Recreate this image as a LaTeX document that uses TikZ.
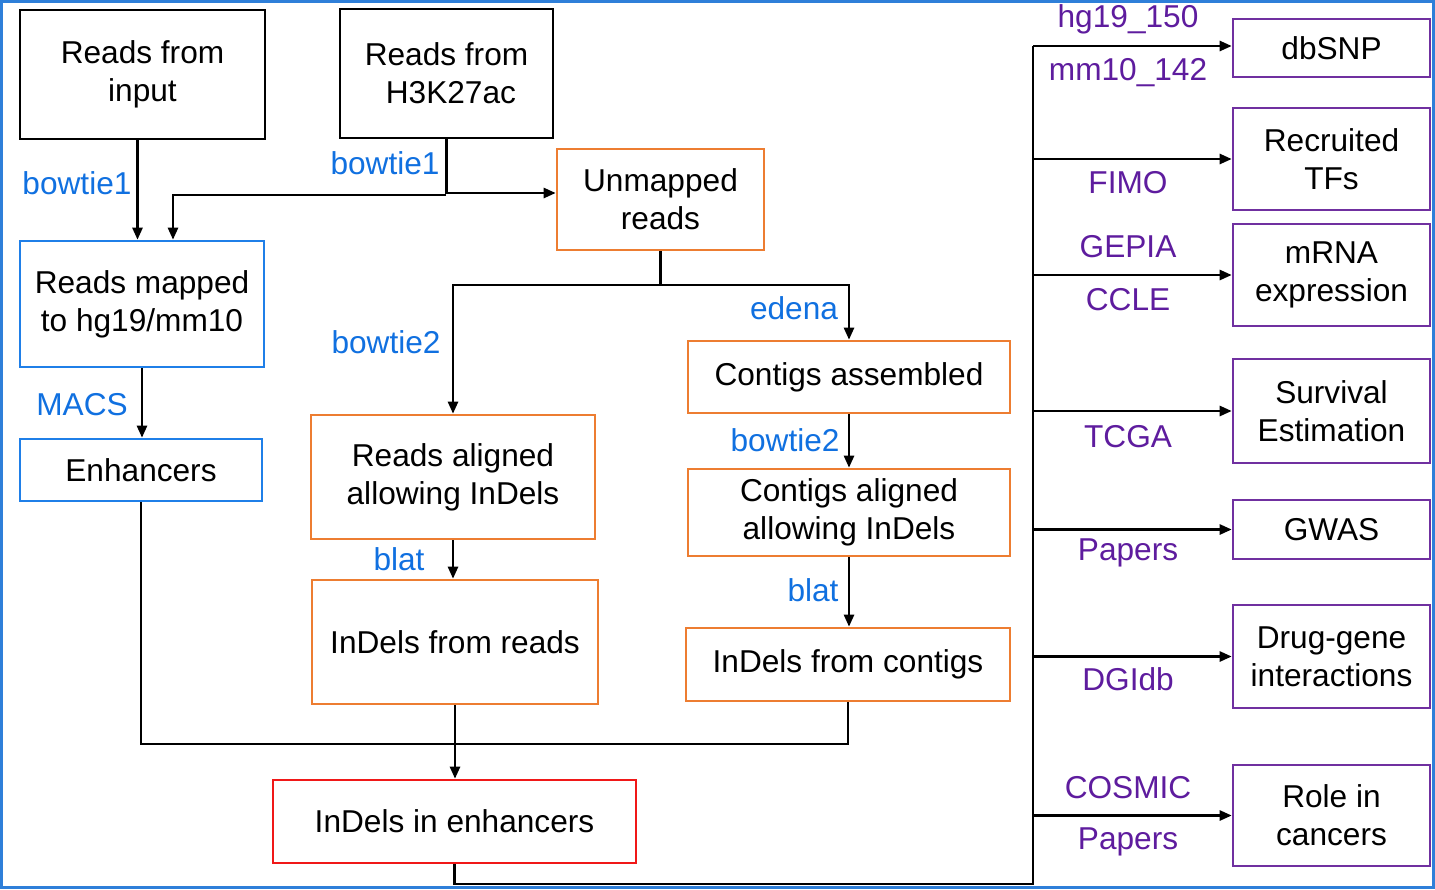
\documentclass[tikz,border=0pt]{standalone}
\usepackage{fontspec}
\setmainfont{Liberation Sans}
\usetikzlibrary{arrows.meta,positioning,calc}
\definecolor{framebl}{HTML}{2E7FD9}
\definecolor{toolbl}{HTML}{1070E0}
\definecolor{mapbl}{HTML}{1F7FE8}
\definecolor{asmor}{HTML}{ED7D31}
\definecolor{hitred}{HTML}{F01818}
\definecolor{dbpurple}{HTML}{7030A0}
\definecolor{dbtext}{HTML}{5E1C9E}

\begin{document}
\begin{tikzpicture}[
  x=0.02cm, y=-0.02cm,
  box/.style={draw, line width=1.5pt, inner sep=0pt, align=center, font=\fontsize{18}{21.6}\selectfont},
  tool/.style={text=toolbl, inner sep=0pt, font=\fontsize{18}{21.6}\selectfont},
  dbase/.style={text=dbtext, inner sep=0pt, font=\fontsize{18}{21.6}\selectfont},
  link/.style={line width=1.4pt},
  arr/.style={link, -{Triangle[length=0.24cm, width=0.2cm]}},
]
\useasboundingbox (0,0) rectangle (1435,889);
\draw[framebl, line width=1.7pt] (1.5,1.5) rectangle (1433.5,887.5);

% input reads
\node[box, minimum width=4.9cm, minimum height=2.58cm] (input) at (142.5,74.5) {Reads from\\input};
\node[box, minimum width=4.26cm, minimum height=2.58cm] (h3k) at (446.5,73.5) {Reads from\\\ H3K27ac};
\node[box, draw=mapbl, minimum width=4.88cm, minimum height=2.52cm] (mapped) at (142,304) {Reads mapped\\to hg19/mm10};
\node[box, draw=mapbl, minimum width=4.84cm, minimum height=1.24cm] (enh) at (141,470) {Enhancers};

% unmapped branch
\node[box, draw=asmor, minimum width=4.14cm, minimum height=2.02cm] (unmapped) at (660.5,199.5) {Unmapped\\reads};
\node[box, draw=asmor, minimum width=5.68cm, minimum height=2.48cm] (raln) at (453,477) {Reads aligned\\allowing InDels};
\node[box, draw=asmor, minimum width=5.72cm, minimum height=2.48cm] (ifr) at (455,642) {InDels from reads};
\node[box, draw=asmor, minimum width=6.44cm, minimum height=1.44cm] (cass) at (849,377) {Contigs assembled};
\node[box, draw=asmor, minimum width=6.44cm, minimum height=1.74cm] (caln) at (849,512.5) {Contigs aligned\\allowing InDels};
\node[box, draw=asmor, minimum width=6.48cm, minimum height=1.46cm] (ifc) at (848,664.5) {InDels from contigs};
\node[box, draw=hitred, minimum width=7.26cm, minimum height=1.66cm] (iie) at (454.5,821.5) {InDels in enhancers};

% annotation targets
\node[box, draw=dbpurple, minimum width=3.94cm, minimum height=1.16cm] (dbsnp) at (1331.5,48) {dbSNP};
\node[box, draw=dbpurple, minimum width=3.94cm, minimum height=2.04cm] (tfs) at (1331.5,159) {Recruited\\TFs};
\node[box, draw=dbpurple, minimum width=3.94cm, minimum height=2.04cm] (mrna) at (1331.5,275) {mRNA\\expression};
\node[box, draw=dbpurple, minimum width=3.94cm, minimum height=2.08cm] (surv) at (1331.5,411) {Survival\\Estimation};
\node[box, draw=dbpurple, minimum width=3.94cm, minimum height=1.18cm] (gwas) at (1331.5,529.5) {GWAS};
\node[box, draw=dbpurple, minimum width=3.94cm, minimum height=2.06cm] (drug) at (1331.5,656.5) {Drug-gene\\interactions};
\node[box, draw=dbpurple, minimum width=3.94cm, minimum height=2.02cm] (role) at (1331.5,815.5) {Role in\\cancers};

% tool labels
\node[tool] (bt1a) at (77,183) {bowtie1};
\node[tool] (bt1b) at (385,163) {bowtie1};
\node[tool] (macs) at (82,405) {MACS};
\node[tool] (bt2a) at (386,342) {bowtie2};
\node[tool] (edena) at (794,308) {edena};
\node[tool] (bt2b) at (785,440) {bowtie2};
\node[tool] (blata) at (399,559) {blat};
\node[tool] (blatb) at (813,590) {blat};

% database labels
\node[dbase] (hg) at (1128,19) {hg19\_150};
\node[dbase] (mm) at (1128,73) {mm10\_142};
\node[dbase] (fimo) at (1128,183) {FIMO};
\node[dbase] (gepia) at (1128,247) {GEPIA};
\node[dbase] (ccle) at (1128,300) {CCLE};
\node[dbase] (tcga) at (1128,437) {TCGA};
\node[dbase] (papa) at (1128,553) {Papers};
\node[dbase] (dgidb) at (1128,679) {DGIdb};
\node[dbase] (cosmic) at (1128,788) {COSMIC};
\node[dbase] (papb) at (1128,842) {Papers};

% junctions
\coordinate (hsplit) at (446,195);
\coordinate (usplit) at (660.5,285);
\coordinate (mergey) at (0,744);
\coordinate (trunktop) at (1033,46);
\coordinate (trunkbot) at (1033,884);

% connectors
\draw[arr] ([xshift=-0.1cm]input.south) -- ([xshift=-0.1cm]input.south |- mapped.north);
\draw[arr] (h3k.south) |- ([yshift=0.13cm]unmapped.west);
\draw[arr] (hsplit) -| ([xshift=0.62cm]mapped.north);
\draw[arr] (mapped.south) -- (mapped.south |- enh.north);
\draw[link] (unmapped.south) -- (usplit);
\draw[arr] (usplit) -| (raln.north);
\draw[arr] (usplit) -| (cass.north);
\draw[arr] (cass.south) -- (caln.north);
\draw[arr] (raln.south) -- (raln.south |- ifr.north);
\draw[arr] (caln.south) -- (caln.south |- ifc.north);
\draw[link] (enh.south) -- (enh.south |- mergey) -| (ifc.south);
\draw[arr] (ifr.south) -- (ifr.south |- iie.north);
\draw[link] (iie.south) |- (trunkbot) -- (trunktop);
\draw[arr] (trunktop) -- (trunktop -| dbsnp.west);
\foreach \t in {tfs,mrna,surv,gwas,drug,role}
  \draw[arr] (trunktop |- \t.west) -- (\t.west);
\end{tikzpicture}
\end{document}
